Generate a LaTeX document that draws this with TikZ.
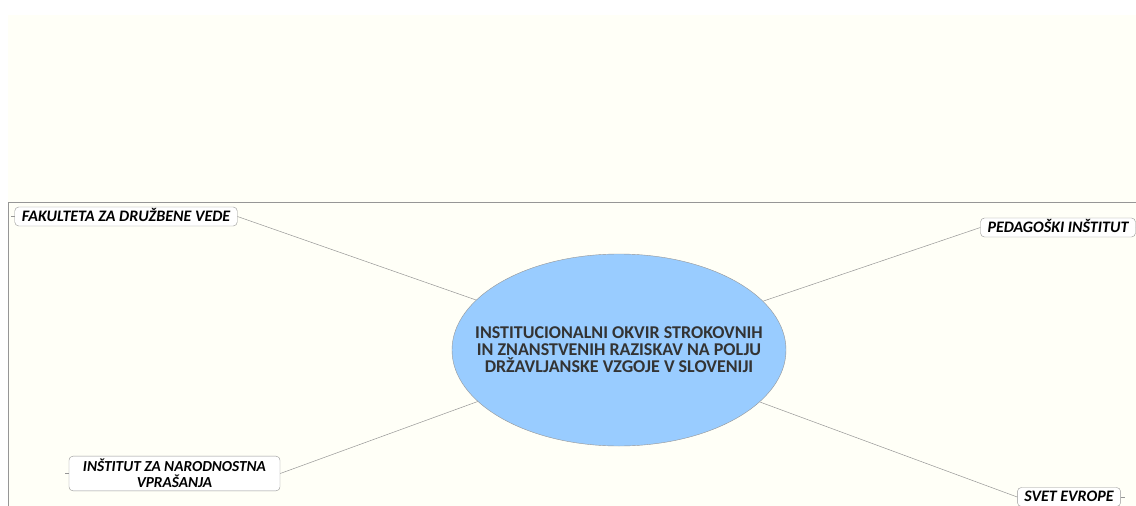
\documentclass[tikz,border=0pt]{standalone}
\usepackage{fontspec}
\setmainfont{Carlito}
\usetikzlibrary{positioning}
\usetikzlibrary{shapes.geometric}
\definecolor{paper}{RGB}{255,255,247}
\definecolor{hub}{RGB}{153,204,255}
\definecolor{rim}{RGB}{150,150,150}
\definecolor{ink}{RGB}{51,51,51}
\tikzset{
    leaf/.style={draw=rim, fill=white, rounded corners=4pt, inner xsep=7pt, inner ysep=3pt,
        text height=11pt, text depth=2pt,
        font=\fontsize{16}{16}\selectfont\bfseries\itshape, text=black, align=center},
    link/.style={draw=rim, line width=0.5pt},
    tick/.style={draw=rim, line width=0.5pt}
}

\begin{document}
\begin{tikzpicture}[x=1pt,y=-1pt]
        \useasboundingbox (0,0) rectangle (1136,506);
        \fill[paper] (8,15) rectangle (1136,506);
        \draw[rim, line width=0.6pt] (8,506) -- (8,202) -- (1136,202);

        \node[ellipse, draw=rim, fill=hub, minimum width=334pt, minimum height=192pt, inner sep=0pt] (hub) at (619,350) {};
        \node[align=center, text=ink, font=\fontsize{18}{17}\selectfont\bfseries] (hubtext) at (hub.center)
            {INSTITUCIONALNI OKVIR STROKOVNIH\\IN ZNANSTVENIH RAZISKAV NA POLJU\\DRŽAVLJANSKE VZGOJE V SLOVENIJI};

        \node[leaf] (fdv) at (126,216.5) {FAKULTETA ZA DRUŽBENE VEDE};
        \node[leaf] (pei) at (1058,227.5) {PEDAGOŠKI INŠTITUT};
        \node[leaf, text height={}, text depth={}, inner xsep=14pt, font=\fontsize{15.3}{16}\selectfont\bfseries\itshape]
            (inv) at (174.5,473.5) {INŠTITUT ZA NARODNOSTNA\\VPRAŠANJA};
        \node[leaf] (sve) at (1069,497) {SVET EVROPE};

        \draw[link] (fdv.east) -- (hub);
        \draw[link] (pei.west) -- (hub);
        \draw[link] (inv.east) -- (hub);
        \draw[link] (sve.west) -- (hub);

        % small stubs on the outer side
        \draw[tick] (fdv.west) -- ++(-4,0);
        \draw[tick] (pei.east) -- ++(4,0);
        \draw[tick] (inv.west) -- ++(-4,0);
        \draw[tick] (sve.east) -- ++(4,0);
\end{tikzpicture}
\end{document}
